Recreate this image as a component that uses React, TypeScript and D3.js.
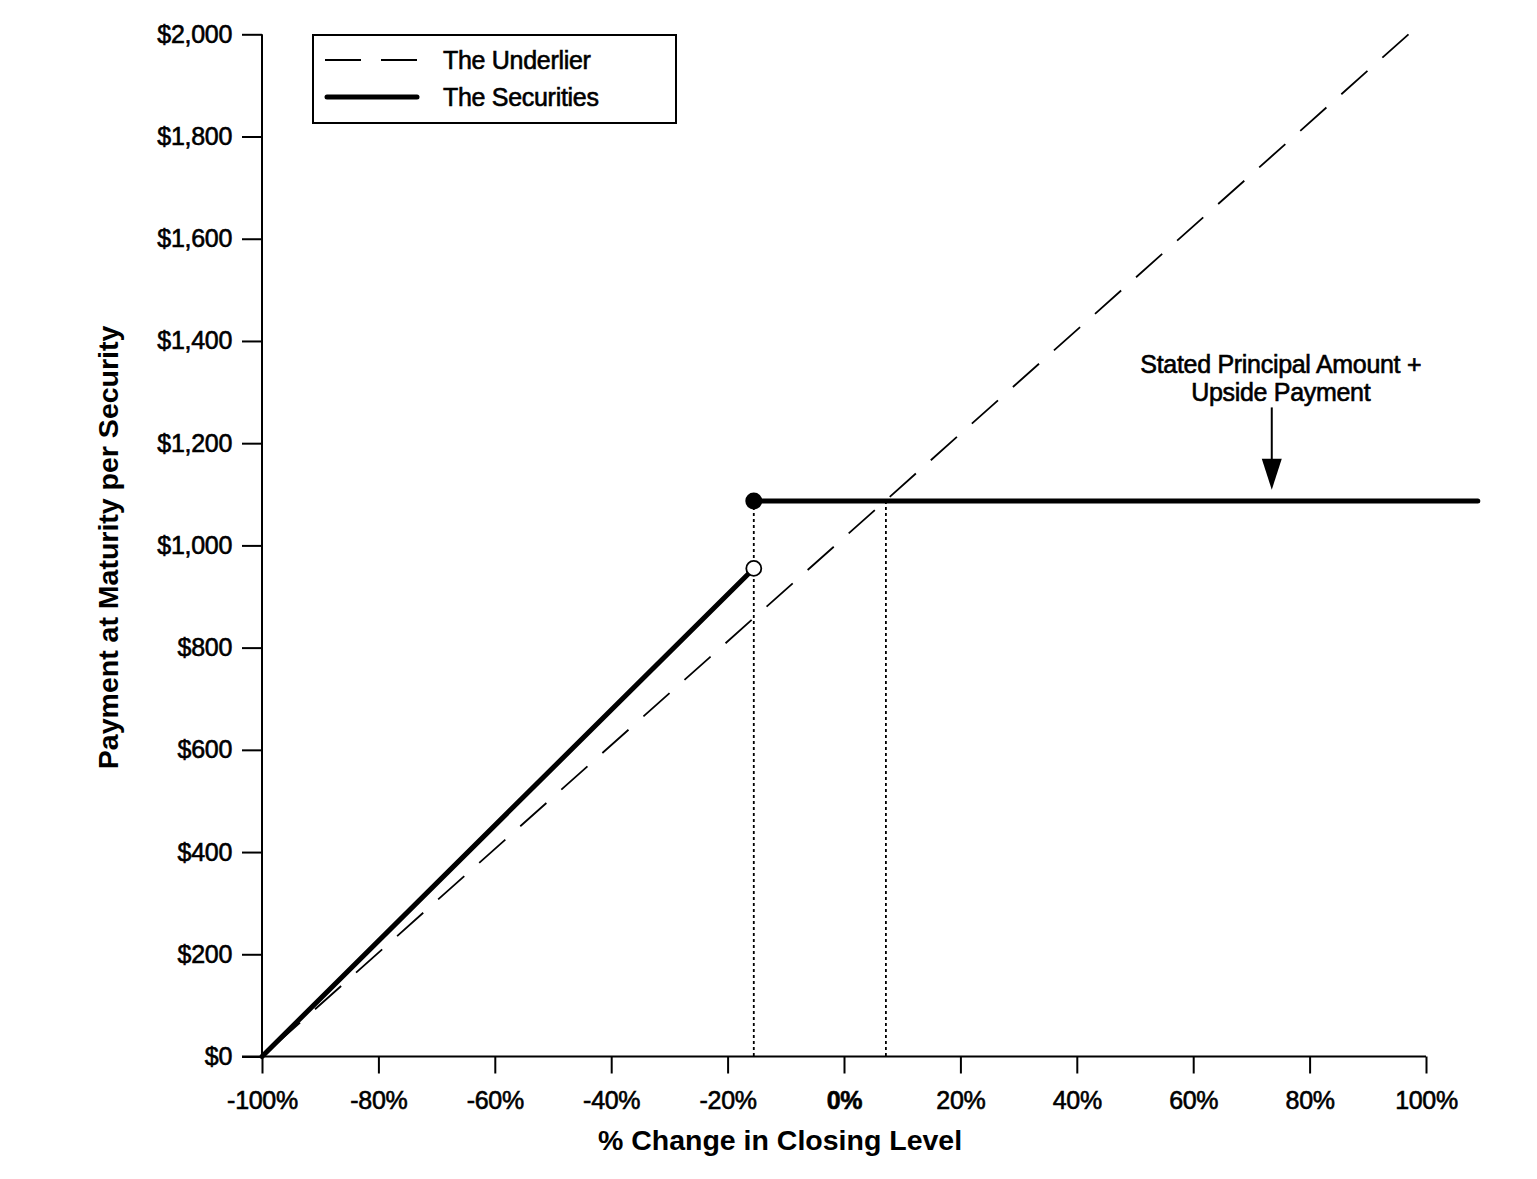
import { useEffect, useRef } from "react";
import * as d3 from "d3";

// % change in closing level vs payment at maturity ($)
const underlierPts: [number, number][] = [
  [-100, 0],
  [97, 2000],
];
const securitiesDown: [number, number][] = [
  [-100, 0],
  [-15.5, 955],
];
const securitiesUp: [number, number][] = [
  [-15.5, 1087],
  [108.9, 1087],
];
const openDot: [number, number] = [-15.5, 955];
const filledDot: [number, number] = [-15.5, 1087];
// dotted guides: [x, yTop]
const guides: [number, number][] = [
  [-15.5, 1087],
  [7.2, 1087],
];
const xTicks = [-100, -80, -60, -40, -20, 0, 20, 40, 60, 80, 100];
const yTicks = [0, 200, 400, 600, 800, 1000, 1200, 1400, 1600, 1800, 2000];
const legendItems = ["The Underlier", "The Securities"];
const noteLines = ["Stated Principal Amount +", "Upside Payment"];
const noteArrow = { x: 73.5, yFrom: 1270, yTo: 1109 };

const FONT = "'Liberation Sans', Arial, Helvetica, sans-serif";

export default function App() {
  const svgRef = useRef<SVGSVGElement | null>(null);

  useEffect(() => {
    const width = 1537;
    const height = 1179;
    const svg = d3.select(svgRef.current);
    svg.selectAll("*").remove();
    svg.attr("width", width).attr("height", height).attr("viewBox", `0 0 ${width} ${height}`);

    svg.append("rect").attr("width", width).attr("height", height).attr("fill", "#fff");

    const x = d3.scaleLinear().domain([-100, 100]).range([262, 1426]);
    const y = d3.scaleLinear().domain([0, 2000]).range([1056.5, 34.3]);

    // y axis
    const yAxis = svg
      .append("g")
      .attr("transform", `translate(${x(-100)},0)`)
      .call(
        d3
          .axisLeft(y)
          .tickValues(yTicks)
          .tickSize(20)
          .tickPadding(10)
          .tickFormat((d) => "$" + d3.format(",")(d as number))
      );
    yAxis.select(".domain").attr("d", `M0,${y(0)}V${y(2000)}`);

    // x axis
    const xAxis = svg
      .append("g")
      .attr("transform", `translate(0,${y(0)})`)
      .call(
        d3
          .axisBottom(x)
          .tickValues(xTicks)
          .tickSize(17)
          .tickPadding(10)
          .tickFormat((d) => d + "%")
      );
    xAxis.select(".domain").attr("d", `M${x(-100) - 20},0H${x(100)}`);

    svg.selectAll(".domain, .tick line").attr("stroke", "#000").attr("stroke-width", 2);
    svg
      .selectAll(".tick text")
      .attr("fill", "#000")
      .attr("stroke", "#000")
      .attr("stroke-width", 0.6)
      .style("font-family", FONT)
      .style("font-size", "25px")
      .style("letter-spacing", "-0.3px");
    xAxis.selectAll(".tick text").attr("dy", "1em");
    // the 0% label is set in bold in the original
    xAxis
      .selectAll<SVGTextElement, number>(".tick text")
      .filter((d) => d === 0)
      .style("font-weight", "bold");

    // axis titles
    svg
      .append("text")
      .attr("x", 780)
      .attr("y", 1150)
      .attr("text-anchor", "middle")
      .style("font-family", FONT)
      .style("font-size", "28.5px")
      .style("font-weight", "bold")
      .text("% Change in Closing Level");

    svg
      .append("text")
      .attr("transform", `translate(118,${y(1000) + 2}) rotate(-90)`)
      .attr("text-anchor", "middle")
      .style("font-family", FONT)
      .style("font-size", "28.5px")
      .style("font-weight", "bold")
      .text("Payment at Maturity per Security");

    const line = d3
      .line<[number, number]>()
      .x((d) => x(d[0]))
      .y((d) => y(d[1]));

    // dotted guides
    svg
      .selectAll("line.guide")
      .data(guides)
      .enter()
      .append("line")
      .attr("class", "guide")
      .attr("x1", (d) => x(d[0]))
      .attr("x2", (d) => x(d[0]))
      .attr("y1", (d) => y(d[1]))
      .attr("y2", y(0))
      .attr("stroke", "#000")
      .attr("stroke-width", 1.8)
      .attr("stroke-dasharray", "3,3");

    // underlier
    svg
      .append("path")
      .attr("d", line(underlierPts))
      .attr("fill", "none")
      .attr("stroke", "#000")
      .attr("stroke-width", 1.8)
      .attr("stroke-dasharray", "35,20")
      .attr("stroke-dashoffset", 39);

    // securities
    [securitiesDown, securitiesUp].forEach((seg) => {
      svg
        .append("path")
        .attr("d", line(seg))
        .attr("fill", "none")
        .attr("stroke", "#000")
        .attr("stroke-width", 5)
        .attr("stroke-linecap", "round");
    });

    svg
      .append("circle")
      .attr("cx", x(openDot[0]))
      .attr("cy", y(openDot[1]))
      .attr("r", 7.5)
      .attr("fill", "#fff")
      .attr("stroke", "#000")
      .attr("stroke-width", 1.8);

    svg
      .append("circle")
      .attr("cx", x(filledDot[0]))
      .attr("cy", y(filledDot[1]))
      .attr("r", 8.5)
      .attr("fill", "#000");

    // annotation
    const ax = x(noteArrow.x);
    const tipY = y(noteArrow.yTo);
    svg
      .append("line")
      .attr("x1", ax)
      .attr("x2", ax)
      .attr("y1", y(noteArrow.yFrom))
      .attr("y2", tipY - 28)
      .attr("stroke", "#000")
      .attr("stroke-width", 2);
    svg
      .append("path")
      .attr("d", `M${ax - 10},${tipY - 31}L${ax + 10},${tipY - 31}L${ax},${tipY}Z`)
      .attr("fill", "#000");

    svg
      .selectAll("text.note")
      .data(noteLines)
      .enter()
      .append("text")
      .attr("class", "note")
      .attr("x", ax + 9)
      .attr("y", (_, i) => 373 + i * 28)
      .attr("text-anchor", "middle")
      .attr("stroke", "#000")
      .attr("stroke-width", 0.6)
      .style("font-family", FONT)
      .style("font-size", "25px")
      .style("letter-spacing", "-0.3px")
      .text((d) => d);

    // legend
    const legend = svg.append("g").attr("transform", "translate(313,35)");
    legend
      .append("rect")
      .attr("width", 363)
      .attr("height", 88)
      .attr("fill", "#fff")
      .attr("stroke", "#000")
      .attr("stroke-width", 2);
    legendItems.forEach((name, i) => {
      const row = legend.append("g").attr("transform", `translate(0,${25 + i * 37})`);
      row
        .append("line")
        .attr("x1", i === 0 ? 12 : 14)
        .attr("x2", 104)
        .attr("stroke", "#000")
        .attr("stroke-width", i === 0 ? 1.8 : 5)
        .attr("stroke-linecap", i === 0 ? "butt" : "round")
        .attr("stroke-dasharray", i === 0 ? "36,20" : null);
      row
        .append("text")
        .attr("x", 130)
        .attr("y", 9)
        .attr("stroke", "#000")
        .attr("stroke-width", 0.6)
        .style("font-family", FONT)
        .style("font-size", "25px")
        .style("letter-spacing", "-0.3px")
        .text(name);
    });
  }, []);

  return (
    <svg
      ref={svgRef}
      style={{ position: "absolute", left: 0, top: 0, display: "block" }}
    />
  );
}
